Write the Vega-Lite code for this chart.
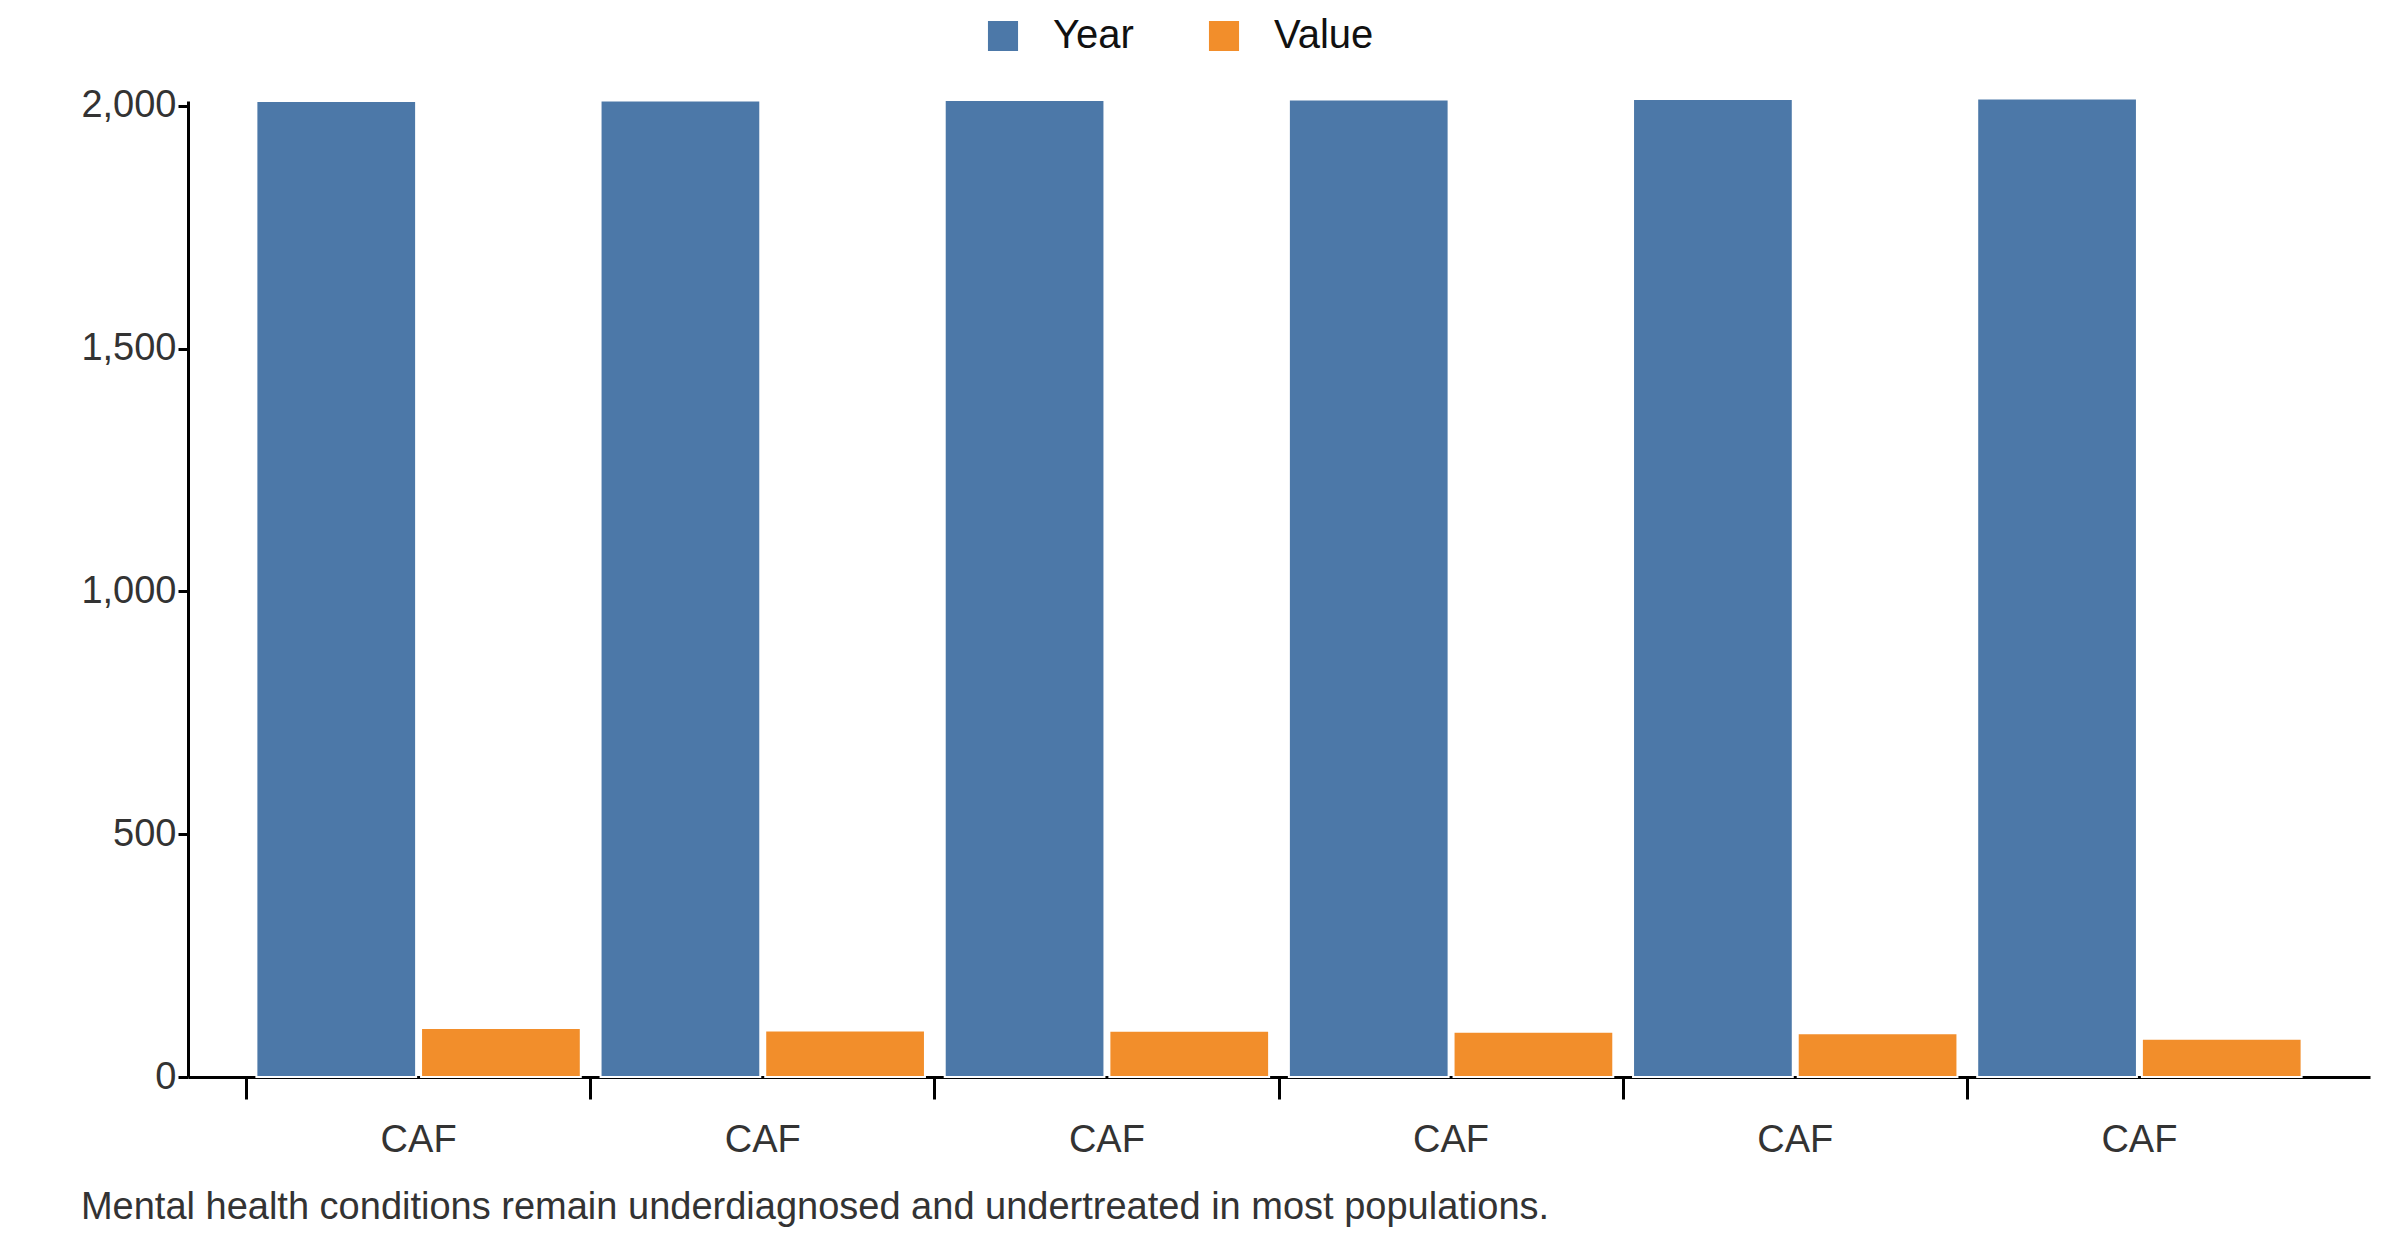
{
  "$schema": "https://vega.github.io/schema/vega-lite/v6.json",
  "autosize": "none",
  "padding": {"left": 188, "top": 101, "right": 30, "bottom": 179},
  "width": 2182,
  "height": 976,
  "background": "white",
  "config": {"view": {"stroke": null}, "font": "Liberation Sans"},
  "title": {"text": "Mental health conditions remain underdiagnosed and undertreated in most populations.", "orient": "bottom", "anchor": "start", "fontSize": 38, "fontWeight": "normal", "color": "#333", "offset": 30},
  "data": {"values": [
    {"g": 1, "series": "Year", "amount": 2010}, {"g": 1, "series": "Value", "amount": 101},
    {"g": 2, "series": "Year", "amount": 2011}, {"g": 2, "series": "Value", "amount": 96},
    {"g": 3, "series": "Year", "amount": 2012}, {"g": 3, "series": "Value", "amount": 95},
    {"g": 4, "series": "Year", "amount": 2013}, {"g": 4, "series": "Value", "amount": 93},
    {"g": 5, "series": "Year", "amount": 2014}, {"g": 5, "series": "Value", "amount": 90},
    {"g": 6, "series": "Year", "amount": 2015}, {"g": 6, "series": "Value", "amount": 79}
  ]},
  "resolve": {"axis": {"x": "independent"}},
  "layer": [
    {
      "mark": {"type": "bar", "stroke": "white", "strokeWidth": 2},
      "encoding": {
        "x": {"field": "g", "type": "ordinal", "scale": {"paddingInner": 0.0, "paddingOuter": 0.17},
          "axis": {"orient": "bottom", "title": null, "labelExpr": "'CAF'", "ticks": false, "labelAngle": 0, "labelFontSize": 38, "labelColor": "#333", "labelPadding": 44, "domainColor": "#000", "domainWidth": 3}},
        "xOffset": {"field": "series", "type": "nominal", "sort": ["Year", "Value"], "scale": {"paddingInner": 0.03, "paddingOuter": 0.06}},
        "y": {"field": "amount", "type": "quantitative", "scale": {"domain": [0, 2010], "nice": false},
          "axis": {"title": null, "values": [0, 500, 1000, 1500, 2000], "grid": false, "labelFontSize": 38, "labelColor": "#333", "tickSize": 10, "tickWidth": 3, "tickColor": "#000", "domainColor": "#000", "domainWidth": 3}},
        "color": {"field": "series", "type": "nominal", "sort": ["Year", "Value"], "scale": {"range": ["#4c78a8", "#f28e2b"]},
          "legend": {"title": null, "orient": "none", "legendX": 795, "legendY": -85, "direction": "horizontal", "symbolType": "square", "symbolSize": 1000, "labelFontSize": 40, "labelColor": "#111", "columnPadding": 70, "labelOffset": 30}}
      }
    },
    {
      "mark": {"type": "bar", "opacity": 0},
      "encoding": {
        "x": {"field": "g", "type": "ordinal",
          "axis": {"orient": "bottom", "title": null, "labels": false, "domain": false, "bandPosition": 0, "tickSize": 22, "tickWidth": 3, "tickColor": "#000"}},
        "y": {"field": "amount", "type": "quantitative"}
      }
    }
  ]
}
